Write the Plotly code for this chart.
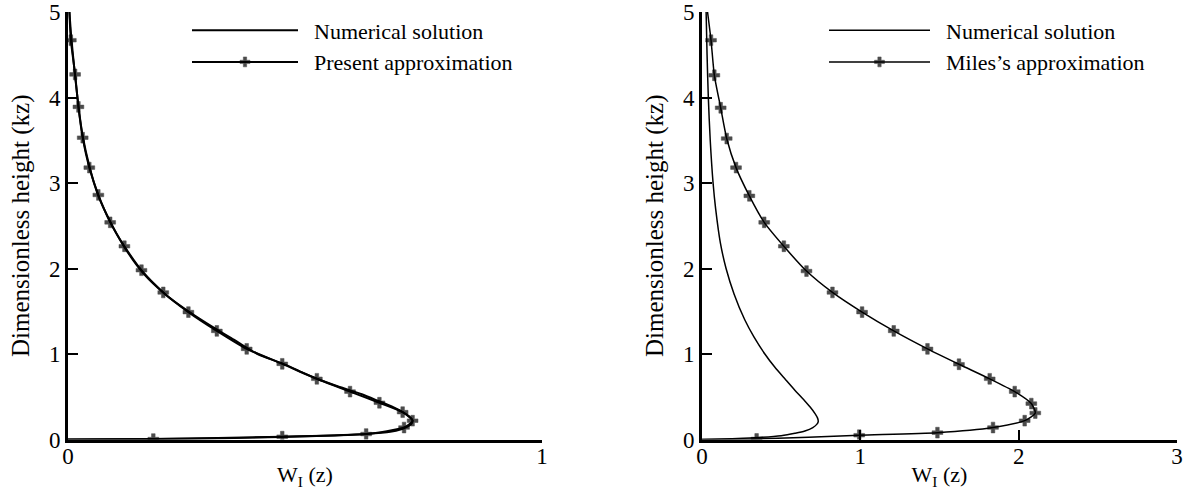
import plotly.graph_objects as go

# ---------------- data ----------------
# Left panel: numerical solution
left_num_z = [0, 0.005, 0.015, 0.03, 0.05, 0.065, 0.09, 0.12, 0.15, 0.18, 0.22, 0.27, 0.32, 0.38,
              0.45, 0.53, 0.62, 0.71, 0.8, 0.89, 1.0, 1.15, 1.3, 1.5, 1.7, 1.95, 2.25, 2.55, 2.85,
              3.2, 3.55, 3.9, 4.3, 4.7, 5.0]
left_num_w = [0, 0.18, 0.33, 0.45, 0.57, 0.63, 0.68, 0.703, 0.716, 0.724, 0.727, 0.72, 0.706, 0.685,
              0.655, 0.62, 0.57, 0.525, 0.488, 0.452, 0.40, 0.355, 0.31, 0.254, 0.205, 0.158, 0.119,
              0.089, 0.064, 0.045, 0.031, 0.022, 0.014, 0.007, 0.003]

# Left panel: present approximation
left_app_z = [0, 0.005, 0.033, 0.064, 0.14, 0.22, 0.32, 0.43, 0.56, 0.71, 0.885, 1.06, 1.27, 1.49,
              1.72, 1.98, 2.26, 2.54, 2.86, 3.18, 3.53, 3.89, 4.27, 4.67, 5.0]
left_app_w = [0, 0.180, 0.452, 0.629, 0.709, 0.727, 0.706, 0.657, 0.595, 0.525, 0.452, 0.377, 0.314,
              0.254, 0.201, 0.155, 0.119, 0.089, 0.064, 0.045, 0.031, 0.022, 0.015, 0.006, 0.003]

# Right panel: numerical solution
right_num_z = [0, 0.005, 0.015, 0.026, 0.045, 0.073, 0.1, 0.14, 0.18, 0.21, 0.25, 0.3, 0.38, 0.47,
               0.58, 0.7, 0.85, 1.0, 1.2, 1.4, 1.7, 2.0, 2.3, 2.7, 3.0, 3.5, 4.0, 4.5, 5.0]
right_num_w = [0, 0.12, 0.26, 0.377, 0.50, 0.587, 0.65, 0.70, 0.726, 0.734, 0.73, 0.715, 0.683, 0.64,
               0.585, 0.528, 0.458, 0.397, 0.328, 0.27, 0.203, 0.152, 0.116, 0.086, 0.07, 0.052, 0.04,
               0.032, 0.026]

# Right panel: Miles's approximation
right_app_z = [0, 0.006, 0.05, 0.08, 0.14, 0.22, 0.31, 0.42, 0.56, 0.71, 0.88, 1.06, 1.27, 1.49,
               1.72, 1.97, 2.26, 2.54, 2.85, 3.18, 3.52, 3.88, 4.26, 4.67, 5.0]
right_app_w = [0, 0.345, 0.993, 1.487, 1.838, 2.038, 2.105, 2.080, 1.975, 1.817, 1.623, 1.424, 1.211,
               1.011, 0.824, 0.660, 0.517, 0.393, 0.299, 0.215, 0.156, 0.118, 0.078, 0.057, 0.035]

names_left = ["Numerical solution", "Present approximation"]
names_right = ["Numerical solution", "Miles\u2019s approximation"]
y_ticks = [0, 1, 2, 3, 4, 5]
x_ticks_left = [0, 1]
x_ticks_right = [0, 1, 2, 3]

FONT = "Liberation Serif"
W, H = 1189, 490
GAP = "\u00a0\u00a0"          # extra gap between legend line and its text


def px_x(p):
    return p / W


def px_y(p):
    return 1 - p / H


def marker_sizes(n, size):
    # no marker at the first and last (end) points of the curve
    return [0] + [size] * (n - 2) + [0]


MARK = dict(symbol="cross", color="black", line=dict(width=0.5, color="black"))

fig = go.Figure()

fig.add_trace(go.Scatter(x=left_num_w, y=left_num_z, mode="lines", name=GAP + names_left[0],
                         line=dict(color="black", width=2, shape="spline", smoothing=0.6),
                         xaxis="x", yaxis="y", legend="legend"))
fig.add_trace(go.Scatter(x=left_app_w, y=left_app_z, mode="lines+markers", name=GAP + names_left[1],
                         line=dict(color="black", width=2, shape="spline", smoothing=0.6),
                         marker=dict(size=marker_sizes(len(left_app_z), 9), **MARK),
                         xaxis="x", yaxis="y", legend="legend"))
fig.add_trace(go.Scatter(x=right_num_w, y=right_num_z, mode="lines", name=GAP + names_right[0],
                         line=dict(color="black", width=1.5, shape="spline", smoothing=0.8),
                         xaxis="x2", yaxis="y2", legend="legend2"))
fig.add_trace(go.Scatter(x=right_app_w, y=right_app_z, mode="lines+markers", name=GAP + names_right[1],
                         line=dict(color="black", width=1.5, shape="spline", smoothing=0.6),
                         marker=dict(size=marker_sizes(len(right_app_z), 9), **MARK),
                         xaxis="x2", yaxis="y2", legend="legend2"))

ydom = [px_y(439.5), px_y(12)]
axis_common = dict(showgrid=False, zeroline=False, showline=True, linecolor="black", linewidth=3,
                   ticks="inside", ticklen=10, tickwidth=2, tickcolor="black", automargin=False,
                   ticklabeloverflow="allow",
                   tickfont=dict(family=FONT, size=23, color="black"), mirror=False)
xtitle = dict(text="W<sub>I</sub> (z)", font=dict(family=FONT, size=22), standoff=0)
ytitle = dict(text="Dimensionless height (kz)", font=dict(family=FONT, size=25), standoff=13)

fig.update_layout(
    width=W, height=H,
    margin=dict(l=0, r=0, t=0, b=0),
    paper_bgcolor="white", plot_bgcolor="white",
    font=dict(family=FONT, color="black"),
    xaxis=dict(domain=[px_x(68), px_x(542)], range=[0, 1], tickvals=x_ticks_left, anchor="y",
               title=xtitle, ticklabelstandoff=-6, **axis_common),
    yaxis=dict(domain=ydom, range=[0, 5], tickvals=y_ticks, anchor="x",
               title=ytitle, **axis_common),
    xaxis2=dict(domain=[px_x(702), px_x(1177)], range=[0, 3], tickvals=x_ticks_right, anchor="y2",
                title=xtitle, ticklabelstandoff=-6, **axis_common),
    yaxis2=dict(domain=ydom, range=[0, 5], tickvals=y_ticks, anchor="x2",
                title=ytitle, **axis_common),
    legend=dict(x=px_x(187), y=px_y(9.5), xanchor="left", yanchor="top", bgcolor="rgba(0,0,0,0)",
                font=dict(family=FONT, size=22), itemwidth=106, tracegroupgap=0),
    legend2=dict(x=px_x(824), y=px_y(9.5), xanchor="left", yanchor="top", bgcolor="rgba(0,0,0,0)",
                 font=dict(family=FONT, size=22), itemwidth=101, tracegroupgap=0),
    showlegend=True,
)

# remove the page's default body margin so the figure sits at the window's top-left corner
fig.write_html("out.html", config={"displayModeBar": False},
               post_script="document.body.style.margin='0';")
